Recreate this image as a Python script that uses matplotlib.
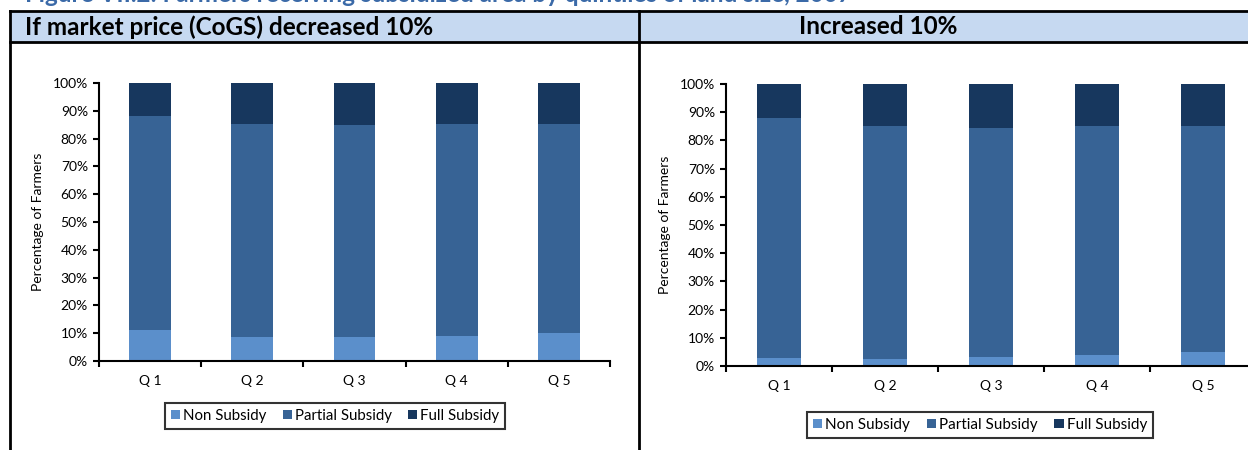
import matplotlib
matplotlib.use("Agg")
import matplotlib.pyplot as plt
from matplotlib.patches import Rectangle, Patch
from matplotlib.lines import Line2D
import numpy as np

plt.rcParams['font.family'] = ['Lato', 'DejaVu Sans']

# data (fractions of farmers)
quintiles = ["Q 1", "Q 2", "Q 3", "Q 4", "Q 5"]
series_names = ["Non Subsidy", "Partial Subsidy", "Full Subsidy"]

dec_non = [0.112, 0.086, 0.086, 0.089, 0.099]
dec_partial = [0.768, 0.766, 0.762, 0.764, 0.754]
dec_full = [0.120, 0.148, 0.152, 0.147, 0.147]

inc_non = [0.029, 0.026, 0.033, 0.038, 0.049]
inc_partial = [0.850, 0.825, 0.811, 0.813, 0.802]
inc_full = [0.121, 0.149, 0.156, 0.149, 0.149]

colors = ["#5b8fcb", "#376395", "#17375e"]

W, H = 1248, 450
fig = plt.figure(figsize=(W / 100, H / 100), dpi=100)


def fx(px):
    return px / W


def fy(py):
    return 1 - py / H


# table frame like the report layout
fig.add_artist(Rectangle((fx(10), fy(42)), fx(W) - fx(10), fy(11) - fy(42),
                         transform=fig.transFigure, facecolor="#c6d9f1",
                         edgecolor="none", zorder=0))
for xs, ys in [((10, W), (11, 11)), ((10, W), (42, 42)),
               ((10, 10), (11, H)), ((639, 639), (11, H))]:
    fig.add_artist(Line2D([fx(v) for v in xs], [fy(v) for v in ys],
                          transform=fig.transFigure, color="black", lw=2))

# report caption, cut by the top edge as in the source
fig.text(fx(25), fy(2), "Figure VII.2: Farmers receiving subsidized area by quintiles of land size, 2007",
         fontsize=17.5, fontweight="bold", color="#3b6aa8", va="baseline")
fig.text(fx(25), fy(27), "If market price (CoGS) decreased 10%", fontsize=17.5,
         fontweight="bold", va="center")
fig.text(fx(878), fy(27), "Increased 10%", fontsize=17.5, fontweight="bold",
         va="center", ha="center")


def draw(ax, non, partial, full, legend_center, legend_size):
    x = np.arange(len(quintiles))
    bottoms = np.zeros(len(x))
    for vals, name, c in zip([non, partial, full], series_names, colors):
        ax.bar(x, vals, 0.41, bottom=bottoms, color=c, label=name, zorder=2)
        bottoms = bottoms + np.array(vals)
    ax.set_xlim(-0.5, 4.5)
    ax.set_ylim(0, 1)
    ax.set_yticks(np.arange(0, 1.01, 0.1))
    ax.set_yticklabels([f"{int(round(v * 100))}%" for v in np.arange(0, 1.01, 0.1)],
                       fontsize=10)
    ax.set_xticks(x)
    ax.set_xticklabels(quintiles, fontsize=10)
    ax.set_xticks(np.arange(-0.5, 5, 1), minor=True)
    ax.tick_params(axis="x", which="major", length=0, pad=10)
    ax.tick_params(axis="x", which="minor", length=4, width=1.5, direction="out")
    ax.tick_params(axis="y", length=4, width=1.5, direction="out", pad=4)
    for s in ["top", "right"]:
        ax.spines[s].set_visible(False)
    for s in ["left", "bottom"]:
        ax.spines[s].set_linewidth(1.5)
    ax.set_ylabel("Percentage of Farmers", fontsize=10, labelpad=6)
    handles = [Patch(facecolor=c, label=n) for c, n in zip(colors, series_names)]
    leg = fig.legend(handles=handles, loc="center", ncol=3,
                     bbox_to_anchor=(fx(legend_center[0]), fy(legend_center[1])),
                     fontsize=legend_size, frameon=True, fancybox=False,
                     handlelength=0.6, handleheight=0.6, handletextpad=0.2,
                     columnspacing=1.1, borderpad=0.4)
    leg.get_frame().set_edgecolor("black")
    leg.get_frame().set_linewidth(1.5)


ax1 = fig.add_axes([fx(99), fy(361), fx(610) - fx(99), fy(83) - fy(361)])
draw(ax1, dec_non, dec_partial, dec_full, (335, 416), 10.8)

ax2 = fig.add_axes([fx(726), fy(366), fx(1256) - fx(726), fy(84) - fy(366)])
draw(ax2, inc_non, inc_partial, inc_full, (980, 425), 11)

fig.savefig("out.png", dpi=100)
